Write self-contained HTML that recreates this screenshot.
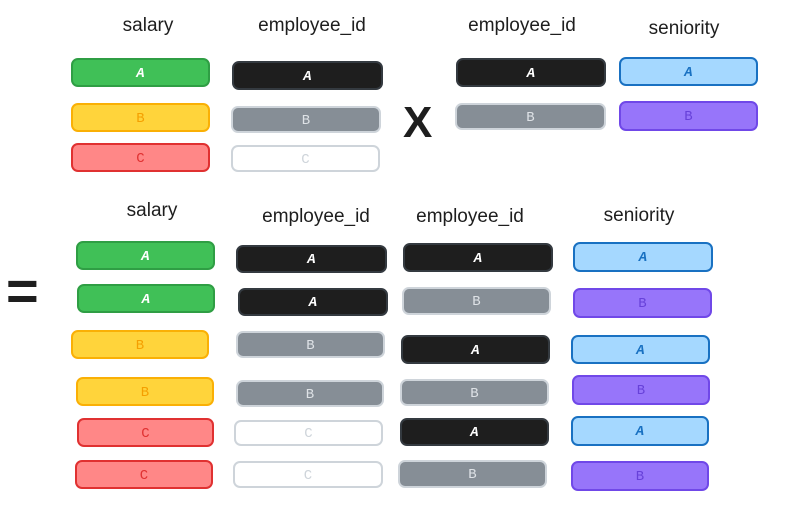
<!DOCTYPE html>
<html><head><meta charset="utf-8">
<style>
html,body{margin:0;padding:0;background:#fff;}
#root{position:relative;width:809px;height:511px;overflow:hidden;font-family:"Liberation Sans",sans-serif;}
.lbl{position:absolute;font-size:19px;color:#1e1e1e;transform:translateX(-50%);white-space:nowrap;}
.box{position:absolute;box-sizing:border-box;border-width:2.5px;border-style:solid;border-radius:7px;display:flex;align-items:center;justify-content:center;font-family:"Liberation Mono",monospace;font-size:14px;font-weight:normal;padding-top:2px;}
.box.A{font-style:italic;font-weight:bold;}
.sym{position:absolute;font-weight:bold;color:#1e1e1e;}
</style></head>
<body>
<div id="root">
<div class="sym" style="left:403px;top:98px;font-size:44px;">X</div>
<div class="sym" style="left:6px;top:258px;font-size:56px;">=</div>
</div>
<script>
const styles = {
  green:{bg:'#40c057',bd:'#2f9e44',fg:'#ffffff',t:'A'},
  yellow:{bg:'#ffd43b',bd:'#fab005',fg:'#f59f00',t:'B'},
  red:{bg:'#ff8787',bd:'#e03131',fg:'#e03131',t:'C'},
  black:{bg:'#1e1e1e',bd:'#343a40',fg:'#ffffff',t:'A'},
  gray:{bg:'#868e96',bd:'#ced4da',fg:'#dee2e6',t:'B'},
  white:{bg:'#ffffff',bd:'#ced4da',fg:'#ced4da',t:'C'},
  blue:{bg:'#a5d8ff',bd:'#1971c2',fg:'#1971c2',t:'A'},
  purple:{bg:'#9775fa',bd:'#7048e8',fg:'#6741d9',t:'B'}
};
const labels = [
  ['salary',148,15],['employee_id',312,15],['employee_id',522,15],['seniority',684,18],
  ['salary',152,200],['employee_id',316,206],['employee_id',470,206],['seniority',639,205]
];
const boxes = [
  ['green',71,58,139,29],['yellow',71,103,139,29],['red',71,143,139,29],
  ['black',232,61,151,29],['gray',231,106,150,27],['white',231,145,149,27],
  ['black',456,58,150,29],['gray',455,103,151,27],
  ['blue',619,57,139,29],['purple',619,101,139,30],
  ['green',76,241,139,29],['green',77,284,138,29],['yellow',71,330,138,29],['yellow',76,377,138,29],['red',77,418,137,29],['red',75,460,138,29],
  ['black',236,245,151,28],['black',238,288,150,28],['gray',236,331,149,27],['gray',236,380,148,27],['white',234,420,149,26],['white',233,461,150,27],
  ['black',403,243,150,29],['gray',402,287,149,28],['black',401,335,149,29],['gray',400,379,149,27],['black',400,418,149,28],['gray',398,460,149,28],
  ['blue',573,242,140,30],['purple',573,288,139,30],['blue',571,335,139,29],['purple',572,375,138,30],['blue',571,416,138,30],['purple',571,461,138,30]
];
const root = document.getElementById('root');
labels.forEach(l=>{
  const d=document.createElement('div');
  d.className='lbl';
  d.textContent=l[0];
  d.style.left=l[1]+'px';d.style.top=l[2]+'px';
  
  
  root.appendChild(d);
});
boxes.forEach(b=>{
  const s=styles[b[0]];
  const d=document.createElement('div');
  d.className='box '+s.t;
  d.textContent=s.t;
  d.style.left=b[1]+'px';d.style.top=b[2]+'px';d.style.width=b[3]+'px';d.style.height=b[4]+'px';
  d.style.background=s.bg;d.style.borderColor=s.bd;d.style.color=s.fg;
  
  
  root.appendChild(d);
});
</script>
</body></html>
